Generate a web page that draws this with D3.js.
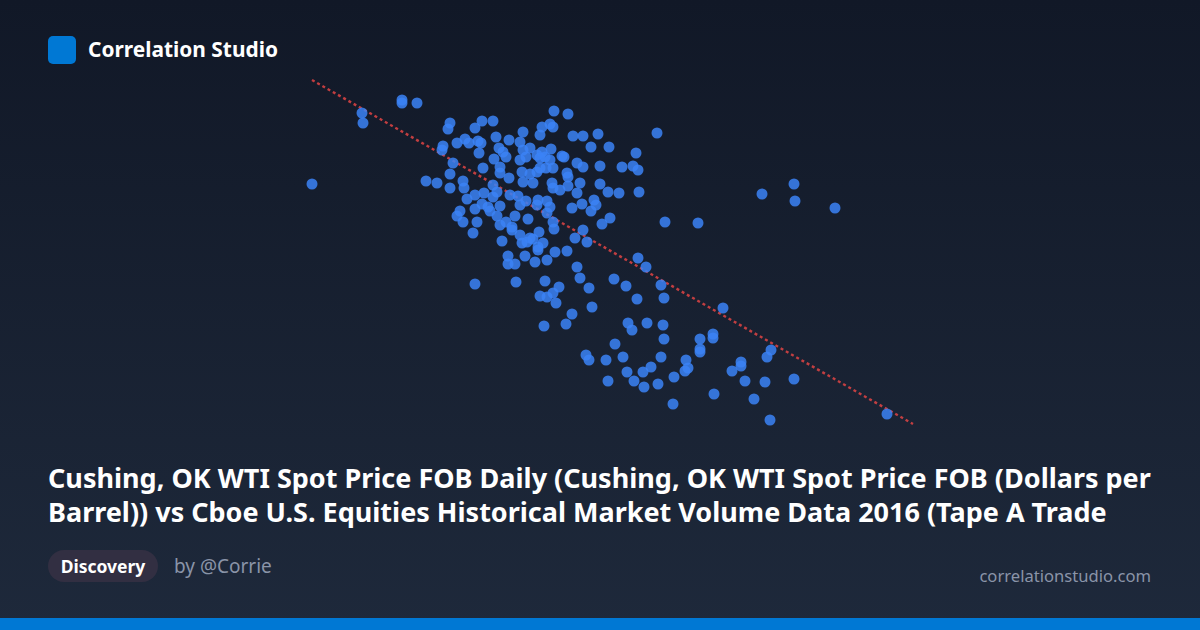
<!DOCTYPE html>
<html>
<head>
<meta charset="utf-8">
<script src="https://cdn.jsdelivr.net/npm/d3@7"></script>
<style>
  html, body { margin: 0; padding: 0; background: #111827; }
  svg { display: block; }
</style>
</head>
<body>
<svg id="chart" width="1200" height="630"></svg>
<script>
// Values (relative units: x = horizontal value, y = vertical value)
const xValues = [12,62,63,102,102,117,150,148,182,193,175,223,254,268,242,250,253,240,273,283,298,357,196,209,220,157,165,169,178,181,143,142,199,203,206,179,194,230,223,220,226,237,242,251,240,245,250,262,264,291,309,336,153,183,200,150,240,246,253,277,283,300,322,333,338,222,230,237,200,209,267,268,252,280,300,126,137,163,164,150,223,233,193,197,253,260,277,268,308,319,339,167,175,184,193,210,218,226,238,247,220,237,200,182,188,190,175,160,250,272,282,294,296,291,157,163,177,197,215,228,247,253,254,200,206,212,173,302,310,365,398,220,230,227,202,239,233,243,238,222,212,283,275,287,462,494,495,535,255,267,247,235,225,208,208,215,238,277,280,289,292,338,346,314,326,337,361,364,175,216,245,259,240,247,253,256,423,272,266,244,328,332,347,363,364,315,400,400,400,413,413,286,289,306,323,361,327,343,351,308,334,344,358,374,386,388,385,414,373,432,441,441,471,467,445,465,494,454,470,587];
const yValues = [256,327,317,340,337,337,317,311,319,319,312,308,329,326,313,316,313,305,304,304,306,307,303,300,298,297,301,297,299,297,294,290,292,288,283,287,281,292,290,280,283,285,288,291,282,283,280,284,283,293,293,287,277,272,273,266,272,272,272,277,273,274,273,274,270,268,266,268,267,262,267,263,257,257,256,259,257,259,252,252,258,257,255,248,252,250,247,254,248,247,248,241,245,247,243,245,244,239,240,239,235,235,234,236,233,229,231,229,233,232,236,240,235,229,224,218,218,224,224,221,227,218,211,215,218,213,207,216,222,218,217,205,202,198,199,208,201,197,193,197,210,210,202,198,246,256,239,232,188,189,180,178,184,184,176,176,190,173,162,152,133,182,173,161,154,141,155,142,156,158,159,153,144,143,147,137,132,126,116,114,117,110,117,115,101,96,101,91,88,106,102,85,80,80,83,83,68,68,73,59,59,53,56,63,80,72,69,46,36,69,78,74,90,83,59,58,61,41,20,26];
const trendX = [12, 613];
const trendY = [360, 16];

const titleLines = [
  "Cushing, OK WTI Spot Price FOB Daily (Cushing, OK WTI Spot Price FOB (Dollars per",
  "Barrel)) vs Cboe U.S. Equities Historical Market Volume Data 2016 (Tape A Trade"
];
const brandName = "Correlation Studio";
const tagLabel = "Discovery";
const authorLabel = "by @Corrie";
const siteLabel = "correlationstudio.com";

const W = 1200, H = 630;
const FONT = "'Noto Sans', 'Open Sans', sans-serif";
const svg = d3.select("#chart");

const defs = svg.append("defs");
const grad = defs.append("linearGradient").attr("id", "bg").attr("x1", 0).attr("y1", 0).attr("x2", 0).attr("y2", 1);
grad.append("stop").attr("offset", "0%").attr("stop-color", "#111827");
grad.append("stop").attr("offset", "100%").attr("stop-color", "#1e293b");
svg.append("rect").attr("width", W).attr("height", H).attr("fill", "url(#bg)");

// Header
svg.append("rect").attr("x", 48).attr("y", 36).attr("width", 28).attr("height", 28).attr("rx", 5).attr("fill", "#0078d4");
svg.append("text").attr("x", 88).attr("y", 57).attr("fill", "#ffffff")
  .attr("font-family", FONT).attr("font-weight", 700).attr("font-size", 20.9).text(brandName);

// Scales
const x = d3.scaleLinear().domain([0, 620]).range([300, 920]);
const y = d3.scaleLinear().domain([0, 360]).range([440, 80]);

const pts = xValues.map((v, i) => ({ x: v, y: yValues[i] }));

// Trend line
const trend = trendX.map((v, i) => ({ x: v, y: trendY[i] }));
svg.append("path")
  .datum(trend)
  .attr("d", d3.line().x(d => x(d.x)).y(d => y(d.y)))
  .attr("fill", "none")
  .attr("stroke", "#e04444")
  .attr("stroke-opacity", 0.85)
  .attr("stroke-width", 2.4)
  .attr("stroke-dasharray", "3,3");

// Points
svg.append("g").selectAll("circle").data(pts).join("circle")
  .attr("cx", d => x(d.x))
  .attr("cy", d => y(d.y))
  .attr("r", 5.5)
  .attr("fill", "#3b82f6")
  .attr("fill-opacity", 0.85);

// Title
const title = svg.append("text").attr("fill", "#ffffff").attr("font-family", FONT)
  .attr("font-weight", 700).attr("font-size", 27);
titleLines.forEach((t, i) => {
  title.append("tspan").attr("x", 48).attr("y", 488 + i * 34).text(t);
});

// Footer
svg.append("rect").attr("x", 48).attr("y", 550).attr("width", 110).attr("height", 32).attr("rx", 16).attr("fill", "#322f42");
svg.append("text").attr("x", 103).attr("y", 572.5).attr("text-anchor", "middle").attr("fill", "#ffffff")
  .attr("font-family", FONT).attr("font-weight", 700).attr("font-size", 17.5).text(tagLabel);
svg.append("text").attr("x", 174).attr("y", 573).attr("fill", "#8a94a8")
  .attr("font-family", FONT).attr("font-size", 19).text(authorLabel);
svg.append("text").attr("x", 1151).attr("y", 582).attr("text-anchor", "end").attr("fill", "#8a94a8")
  .attr("font-family", FONT).attr("font-size", 16.6).text(siteLabel);

svg.append("rect").attr("x", 0).attr("y", 618).attr("width", W).attr("height", 12).attr("fill", "#0078d4");
</script>
</body>
</html>
